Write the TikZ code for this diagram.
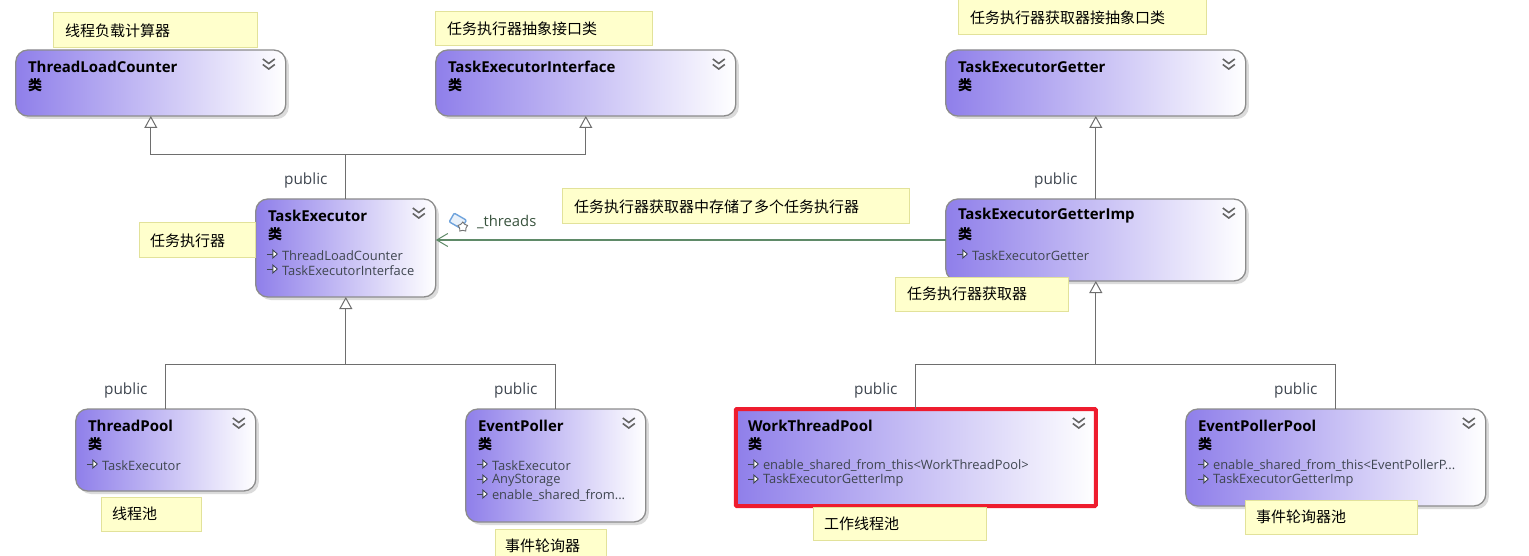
\documentclass[tikz,border=0pt]{standalone}
\usepackage{fontspec}
\setmainfont{Open Sans}
\newfontfamily\cjk{Noto Sans CJK SC}
\usetikzlibrary{arrows.meta}
\usetikzlibrary{shadows}
\usetikzlibrary{shapes.geometric}
\definecolor{classviolet}{HTML}{8F7FEA}
\definecolor{classedge}{HTML}{8C8C8C}
\definecolor{noteyellow}{HTML}{FFFFCC}
\definecolor{noteedge}{HTML}{E2E29A}
\definecolor{linegray}{HTML}{6E6E6E}
\definecolor{assocgreen}{HTML}{5F8A68}
\definecolor{hotred}{HTML}{EE1C2E}
\definecolor{itemgray}{HTML}{3F4650}
\definecolor{iconblue}{HTML}{6FA3DC}
\tikzset{
  classbox/.style={draw=classedge, line width=1.3pt, rounded corners=12pt, left color=classviolet, right color=white,
    anchor=north west, inner sep=0pt, outer sep=0pt, drop shadow={shadow xshift=3pt, shadow yshift=-3pt, fill=black, opacity=0.14}},
  hotbox/.style={draw=hotred, line width=4pt, rounded corners=1pt, left color=classviolet, right color=white,
    anchor=north west, inner sep=0pt, outer sep=0pt},
  notebox/.style={draw=noteedge, line width=1pt, fill=noteyellow, anchor=north west, inner sep=0pt, outer sep=0pt},
  notetext/.style={anchor=west, inner sep=0pt, font=\cjk\fontsize{15}{15}\selectfont, text=black},
  titletext/.style={anchor=west, inner sep=0pt, font=\bfseries\fontsize{15}{16}\selectfont, text=black},
  kindtext/.style={anchor=west, inner sep=0pt, font=\cjk\bfseries\fontsize{14}{14}\selectfont, text=black},
  itemtext/.style={anchor=west, inner sep=0pt, font=\fontsize{12.9}{14}\selectfont, text=itemgray},
  pubtext/.style={inner sep=0pt, font=\fontsize{15.4}{16}\selectfont, text=itemgray},
  inherit/.style={draw=linegray, line width=1pt, -{Triangle[open, length=12pt, width=13pt, fill=white]}},
  inheritline/.style={draw=linegray, line width=1pt},
  assoc/.style={draw=assocgreen, line width=1.4pt, -{Straight Barb[length=11pt, width=13pt, line width=1pt]}},
  pics/doublechevron/.style={code={
    \draw[line width=1.6pt, draw=black!60] (-6,-6) -- (0,-1.5) -- (6,-6);
    \draw[line width=1.6pt, draw=black!60] (-6,-0.5) -- (0,4) -- (6,-0.5);
  }},
  pics/baseicon/.style={code={
    \draw[line width=0.9pt, draw=itemgray] (-15,-1.5) -- (-9,-1.5);
    \draw[line width=0.9pt, draw=itemgray, fill=white] (-9,-5.5) -- (-4.5,-1.5) -- (-9,2.5) -- cycle;
  }},
}
\begin{document}
\begin{tikzpicture}[x=1pt, y=-1pt]
  \useasboundingbox (0.2,0) rectangle (1529.2,556);
  % class boxes
  \node[classbox, minimum width=270pt, minimum height=66pt] (tlc) at (16,50) {};
  \node[classbox, minimum width=300pt, minimum height=66pt] (tei) at (436,50) {};
  \node[classbox, minimum width=300pt, minimum height=66pt] (teg) at (946,50) {};
  \node[classbox, minimum width=180pt, minimum height=98pt] (te) at (256,199) {};
  \node[classbox, minimum width=300pt, minimum height=82pt] (tegi) at (946,199) {};
  \node[classbox, minimum width=180pt, minimum height=82pt] (tp) at (76,409) {};
  \node[classbox, minimum width=180pt, minimum height=113pt] (ep) at (466,409) {};
  \node[hotbox, minimum width=360pt, minimum height=97pt] (wtp) at (736,409) {};
  \node[classbox, minimum width=300pt, minimum height=97pt] (epp) at (1186,409) {};
  % inheritance lines
  \coordinate (topLeft) at (346,155);
  \coordinate (midLeft) at (346,364);
  \coordinate (midRight) at (1096,364);
  \draw[inheritline] (te.north) -- (topLeft);
  \draw[inherit] (topLeft) -| (tlc.south);
  \draw[inherit] (topLeft) -| (tei.south);
  \draw[inherit] (tegi.north) -- (teg.south);
  \draw[inherit] (midLeft) -- (te.south);
  \draw[inheritline] (midLeft) -| (tp.north);
  \draw[inheritline] (midLeft) -| (ep.north);
  \draw[inherit] (midRight) -- (tegi.south);
  \draw[inheritline] (midRight) -| (wtp.north);
  \draw[inheritline] (midRight) -| (epp.north);
  \draw[assoc] (tegi.west) -- (te.east |- tegi.west);
  % titles
  \node[titletext] (tlcName) at ([shift={(12,16.5)}]tlc.north west) {ThreadLoadCounter};
  \node[titletext] (teiName) at ([shift={(12,16.5)}]tei.north west) {TaskExecutorInterface};
  \node[titletext] (tegName) at ([shift={(12,16.5)}]teg.north west) {TaskExecutorGetter};
  \node[titletext] (teName) at ([shift={(12,16.5)}]te.north west) {TaskExecutor};
  \node[titletext] (tegiName) at ([shift={(12,16.5)}]tegi.north west) {TaskExecutorGetterImp};
  \node[titletext] (tpName) at ([shift={(12,16.5)}]tp.north west) {ThreadPool};
  \node[titletext] (epName) at ([shift={(12,16.5)}]ep.north west) {EventPoller};
  \node[titletext] (wtpName) at ([shift={(12,16.5)}]wtp.north west) {WorkThreadPool};
  \node[titletext] (eppName) at ([shift={(12,16.5)}]epp.north west) {EventPollerPool};
  % kind line and chevrons
  \foreach \n in {tlc,tei,teg,te,tegi,tp,ep,wtp,epp} {
    \node[kindtext] (\n Kind) at ([shift={(12,35)}]\n.north west) {类};
    \pic at ([shift={(-17,15)}]\n.north east) {doublechevron};
  }
  % base class rows
  \node[itemtext] (teA) at ([shift={(26,56.5)}]te.north west) {ThreadLoadCounter};
  \node[itemtext] (teB) at ([shift={(26,71.5)}]te.north west) {TaskExecutorInterface};
  \node[itemtext] (tegiA) at ([shift={(26,56.5)}]tegi.north west) {TaskExecutorGetter};
  \node[itemtext] (tpA) at ([shift={(26,56.5)}]tp.north west) {TaskExecutor};
  \node[itemtext] (epA) at ([shift={(26,56.5)}]ep.north west) {TaskExecutor};
  \node[itemtext] (epB) at ([shift={(26,71.5)}]ep.north west) {AnyStorage};
  \node[itemtext] (epC) at ([shift={(26,86.5)}]ep.north west) {enable\_shared\_from...};
  \node[itemtext] (wtpA) at ([shift={(27,56.5)}]wtp.north west) {enable\_shared\_from\_this<WorkThreadPool>};
  \node[itemtext] (wtpB) at ([shift={(27,71.5)}]wtp.north west) {TaskExecutorGetterImp};
  \node[itemtext] (eppA) at ([shift={(27,56.5)}]epp.north west) {enable\_shared\_from\_this<EventPollerP...};
  \node[itemtext] (eppB) at ([shift={(27,71.5)}]epp.north west) {TaskExecutorGetterImp};
  \foreach \n in {teA,teB,tegiA,tpA,epA,epB,epC,wtpA,wtpB,eppA,eppB} {
    \pic at (\n.west) {baseicon};
  }
  % public labels
  \node[pubtext] (pubTe) at (306,180.5) {public};
  \node[pubtext] (pubTegi) at (1056,180.5) {public};
  \node[pubtext] (pubTp) at (126,390.5) {public};
  \node[pubtext] (pubEp) at (516,390.5) {public};
  \node[pubtext] (pubWtp) at (876,390.5) {public};
  \node[pubtext] (pubEpp) at (1296,390.5) {public};
  % association label
  \node[itemtext, anchor=west, text=assocgreen!60!black, font=\fontsize{14.8}{16}\selectfont] (threadsLabel) at (477,222) {\_threads};
  \draw[draw=iconblue, fill=iconblue!15, line width=1.4pt, rounded corners=1pt, rotate around={-30:(458,221)}] (451,216) rectangle (465,226);
  \node[star, star points=5, draw=black!55, fill=white, line width=0.9pt, inner sep=0pt, minimum size=10pt] (threadsStar) at (463,227) {};
  % notes
  \node[notebox, minimum width=204pt, minimum height=35pt] (noteTlc) at (54,13) {};
  \node[notetext] at ([xshift=11pt]noteTlc.west) (noteTlcText) {线程负载计算器};
  \node[notebox, minimum width=217pt, minimum height=34pt] (noteTei) at (436,12) {};
  \node[notetext] at ([xshift=11pt]noteTei.west) (noteTeiText) {任务执行器抽象接口类};
  \node[notebox, minimum width=248pt, minimum height=35pt] (noteTeg) at (959,0) {};
  \node[notetext] at ([xshift=11pt]noteTeg.west) (noteTegText) {任务执行器获取器接抽象口类};
  \node[notebox, minimum width=116pt, minimum height=35pt] (noteTe) at (140,223) {};
  \node[notetext] at ([xshift=10pt]noteTe.west) (noteTeText) {任务执行器};
  \node[notebox, minimum width=347pt, minimum height=35pt] (noteAssoc) at (563,189) {};
  \node[notetext] at ([xshift=11pt]noteAssoc.west) (noteAssocText) {任务执行器获取器中存储了多个任务执行器};
  \node[notebox, minimum width=173pt, minimum height=34pt] (noteTegi) at (896,277) {};
  \node[notetext] at ([xshift=11pt]noteTegi.west) (noteTegiText) {任务执行器获取器};
  \node[notebox, minimum width=100pt, minimum height=34pt] (noteTp) at (102,497) {};
  \node[notetext] at ([xshift=10pt]noteTp.west) (noteTpText) {线程池};
  \node[notebox, minimum width=111pt, minimum height=34pt] (noteEp) at (496,529) {};
  \node[notetext] at ([xshift=9pt]noteEp.west) (noteEpText) {事件轮询器};
  \node[notebox, minimum width=173pt, minimum height=33pt] (noteWtp) at (814,507) {};
  \node[notetext] at ([xshift=10pt]noteWtp.west) (noteWtpText) {工作线程池};
  \node[notebox, minimum width=172pt, minimum height=34pt] (noteEpp) at (1246,500) {};
  \node[notetext] at ([xshift=10pt]noteEpp.west) (noteEppText) {事件轮询器池};
\end{tikzpicture}
\end{document}
